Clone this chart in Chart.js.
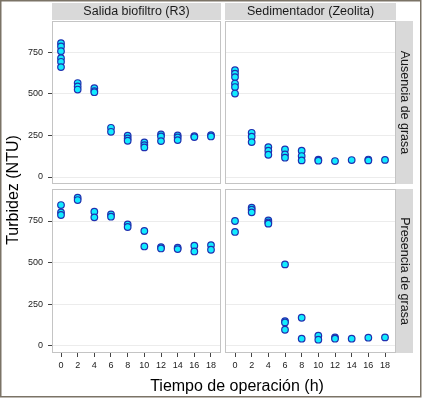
<!DOCTYPE html>
<html>
<head>
<meta charset="utf-8">
<script src="https://cdn.jsdelivr.net/npm/chart.js@4"></script>
<style>
  html, body { margin: 0; padding: 0; background: #ffffff; }
  #wrap { position: relative; width: 422px; height: 398px; }
  canvas { display: block; }
</style>
</head>
<body>
<div id="wrap"><canvas id="c" width="422" height="398"></canvas></div>
<script>
// ---- data ----
const horas = [0, 2, 4, 6, 8, 10, 12, 14, 16, 18];
const yTicks = [0, 250, 500, 750];
const columnas = ['Salida biofiltro (R3)', 'Sedimentador (Zeolita)'];
const filas = ['Ausencia de grasa', 'Presencia de grasa'];
const tituloX = 'Tiempo de operación (h)';
const tituloY = 'Turbidez (NTU)';

// Salida biofiltro (R3) – Ausencia de grasa
const salidaAusencia = [
  [805, 785, 757, 715, 693, 661],
  [565, 545, 526],
  [534, 517, 510],
  [296, 272],
  [248, 232, 218],
  [208, 192, 178],
  [256, 244, 216],
  [250, 238, 222],
  [246, 240],
  [252, 244]
];
// Sedimentador (Zeolita) – Ausencia de grasa
const sedimAusencia = [
  [642, 622, 601, 562, 541, 502],
  [266, 242, 210],
  [180, 158, 134],
  [166, 136, 116],
  [158, 126, 100],
  [104, 98],
  [96],
  [102],
  [105, 100],
  [103]
];
// Salida biofiltro (R3) – Presencia de grasa
const salidaPresencia = [
  [846, 802, 786],
  [890, 876],
  [806, 772],
  [790, 776],
  [730, 714],
  [690, 597],
  [593, 585],
  [589, 581],
  [601, 567],
  [605, 577]
];
// Sedimentador (Zeolita) – Presencia de grasa
const sedimPresencia = [
  [750, 684],
  [830, 818, 802],
  [754, 742, 734],
  [489, 148, 140, 96],
  [168, 42],
  [60, 36],
  [50, 42],
  [42],
  [48],
  [50]
];

// ---- build ----
function toPoints(vals) {
  return horas.flatMap((h, i) => vals[i].map(v => ({ x: h, y: v })));
}

const FILL = '#12ecff';
const EDGE = '#1f30b0';
function ds(vals, xid, yid) {
  return {
    data: toPoints(vals),
    xAxisID: xid,
    yAxisID: yid,
    pointRadius: 3.3,
    pointHoverRadius: 3.3,
    pointBackgroundColor: FILL,
    pointBorderColor: EDGE,
    pointBorderWidth: 1.2,
    showLine: false
  };
}

const FONT = '"Liberation Sans", Arial, Helvetica, sans-serif';

function xScale(min, max, weight, sw) {
  return {
    type: 'linear', axis: 'x', position: 'bottom', stack: 'xs', stackWeight: sw, weight: weight,
    min: min, max: max,
    afterBuildTicks: s => { s.ticks = horas.map(v => ({ value: v })); },
    afterFit: s => { s.height = 45; },
    ticks: { font: { family: FONT, size: 9 }, color: '#1a1a1a', padding: 3, maxRotation: 0, autoSkip: false },
    grid: { drawOnChartArea: false, drawTicks: true, tickLength: 4, tickColor: '#444444', tickWidth: 1 },
    border: { display: false }
  };
}
function yScale(min, max, weight, sw) {
  return {
    type: 'linear', axis: 'y', position: 'left', stack: 'ys', stackWeight: sw, weight: weight,
    min: min, max: max,
    afterBuildTicks: s => { s.ticks = yTicks.map(v => ({ value: v })); },
    afterFit: s => { s.width = 52; },
    ticks: { font: { family: FONT, size: 9 }, color: '#1a1a1a', padding: 5 },
    grid: { drawOnChartArea: true, color: '#ececec', lineWidth: 1, drawTicks: true, tickLength: 4, tickColor: '#444444', tickWidth: 1 },
    border: { display: false }
  };
}

const GAP = 4;
const decor = {
  id: 'decor',
  beforeDatasetsDraw(chart) {
    const ctx = chart.ctx;
    const s = chart.scales;
    const ca = chart.chartArea;
    const xs = [[s.xL.left, s.xL.right - GAP / 2], [s.xR.left + GAP / 2, s.xR.right]];
    const ys = [[s.yTop.top, s.yTop.bottom - GAP / 2 - 0.5], [s.yBot.top + GAP / 2 + 0.5, s.yBot.bottom]];
    ctx.save();
    // gaps
    ctx.fillStyle = '#ffffff';
    ctx.fillRect(xs[0][1], ca.top, xs[1][0] - xs[0][1], ca.bottom - ca.top);
    ctx.fillRect(ca.left, ys[0][1], ca.right - ca.left, ys[1][0] - ys[0][1]);
    // panel borders
    ctx.strokeStyle = '#c4c4c4';
    ctx.lineWidth = 1;
    for (const [l, r] of xs) {
      for (const [t, b] of ys) {
        ctx.strokeRect(Math.round(l) + 0.5, Math.round(t) + 0.5, Math.round(r - l) - 1, Math.round(b - t) - 1);
      }
    }
    // strips top
    ctx.font = '12.5px ' + FONT;
    ctx.textAlign = 'center';
    ctx.textBaseline = 'middle';
    xs.forEach(([l, r], i) => {
      ctx.fillStyle = '#d9d9d9';
      ctx.fillRect(l, 3, r - l, ca.top - 4);
      ctx.fillStyle = '#1a1a1a';
      ctx.fillText(columnas[i], (l + r) / 2, 12);
    });
    // strips right
    ys.forEach(([t, b], i) => {
      ctx.fillStyle = '#d9d9d9';
      ctx.fillRect(ca.right, t, 17, b - t);
      ctx.save();
      ctx.translate(ca.right + 8.5, (t + b) / 2);
      ctx.rotate(Math.PI / 2);
      ctx.fillStyle = '#1a1a1a';
      ctx.fillText(filas[i], 0, 0);
      ctx.restore();
    });
    ctx.restore();
  },
  afterDraw(chart) {
    const ctx = chart.ctx;
    ctx.save();
    ctx.fillStyle = '#000000';
    ctx.font = '16px ' + FONT;
    ctx.textAlign = 'center';
    ctx.textBaseline = 'alphabetic';
    ctx.fillText(tituloX, 237, 391);
    ctx.save();
    ctx.translate(18, 190);
    ctx.rotate(-Math.PI / 2);
    ctx.fillText(tituloY, 0, 0);
    ctx.restore();
    // outer frame
    ctx.strokeStyle = '#7b7366';
    ctx.lineWidth = 1.5;
    ctx.strokeRect(0.75, 0.75, 420, 396);
    ctx.restore();
  }
};

new Chart(document.getElementById('c'), {
  type: 'scatter',
  data: {
    datasets: [
      ds(salidaAusencia, 'xL', 'yTop'),
      ds(sedimAusencia, 'xR', 'yTop'),
      ds(salidaPresencia, 'xL', 'yBot'),
      ds(sedimPresencia, 'xR', 'yBot')
    ]
  },
  options: {
    responsive: false,
    devicePixelRatio: 1,
    animation: false,
    events: [],
    layout: { padding: { top: 21, right: 26, left: 0, bottom: 0 } },
    plugins: { legend: { display: false }, tooltip: { enabled: false }, title: { display: false } },
    scales: {
      xL: xScale(-1.08, 19.44, 0, 171),
      xR: xScale(-1.44, 19.32, 1, 173),
      yTop: yScale(-57.1, 938.3, 1, 165.5),
      yBot: yScale(-43.9, 957.5, 0, 166.5)
    }
  },
  plugins: [decor]
});
</script>
</body>
</html>
